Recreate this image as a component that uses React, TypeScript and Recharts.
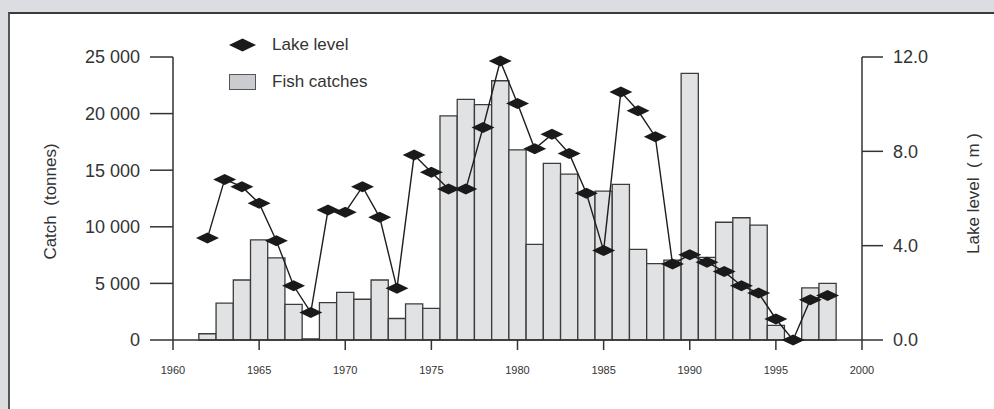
import {
    ComposedChart, Bar, Line, XAxis, YAxis, Legend, Label
} from 'recharts';

const YEARS = [
    1962, 1963, 1964, 1965, 1966, 1967, 1968, 1969, 1970, 1971, 1972, 1973,
    1974, 1975, 1976, 1977, 1978, 1979, 1980, 1981, 1982, 1983, 1984, 1985,
    1986, 1987, 1988, 1989, 1990, 1991, 1992, 1993, 1994, 1995, 1996, 1997, 1998,
];

// fish catches, tonnes
const CATCH_T = [
    550, 3250, 5300, 8850, 7250, 3150, 100, 3300, 4200, 3600, 5300, 1900,
    3200, 2800, 19800, 21250, 20800, 22900, 16800, 8450, 15600, 14650, 12900, 13150,
    13750, 8000, 6750, 7050, 23550, 7300, 10400, 10800, 10150, 1300, 0, 4600, 5000,
];

// lake level, m
const LEVEL_M = [
    4.32, 6.81, 6.5, 5.8, 4.21, 2.3, 1.17, 5.51, 5.42, 6.5, 5.2, 2.19,
    7.84, 7.11, 6.4, 6.4, 9.01, 11.83, 10.03, 8.11, 8.72, 7.91, 6.22, 3.79,
    10.52, 9.72, 8.62, 3.22, 3.61, 3.3, 2.9, 2.3, 1.99, 0.89, 0, 1.71, 1.89,
];

const YEAR_TICKS = [1960, 1965, 1970, 1975, 1980, 1985, 1990, 1995, 2000];
const CATCH_TICKS = [0, 5000, 10000, 15000, 20000, 25000];
const LEVEL_TICKS = [0, 4, 8, 12];

const rows = YEARS.map((year, i) => ({ year, catchT: CATCH_T[i], level: LEVEL_M[i] }));

const INK = '#333';
const FONT = '"Liberation Sans", Arial, sans-serif';

const fmtCatch = (v: number) => (v === 0 ? '0' : `${v / 1000} 000`);

// black diamond marker on the lake level line
const Diamond = (props: any) => {
    const { cx, cy, index } = props;
    if (cx == null || cy == null) return null;
    return (
        <polygon
            key={`d-${index}`}
            points={`${cx - 11.5},${cy} ${cx},${cy - 5.5} ${cx + 11.5},${cy} ${cx},${cy + 5.5}`}
            fill="#1a1a1a"
        />
    );
};

const LegendBox = ({ payload }: any) => {
    const items = [...(payload || [])].sort((a: any) => (a.type === 'diamond' ? -1 : 1));
    return (
        <div style={{ fontFamily: FONT, fontSize: 17, color: INK }}>
            {items.map((it: any) => (
                <div key={it.value} style={{ height: 36.5, display: 'flex', alignItems: 'center' }}>
                    <svg width={27} height={16} style={{ display: 'block' }}>
                        {it.type === 'diamond' ? (
                            <polygon points="0,8 13.5,1.5 27,8 13.5,14.5" fill="#1a1a1a" />
                        ) : (
                            <rect x={0.5} y={0.5} width={26} height={15} fill="#cbcccf" stroke="#555" strokeWidth={1} />
                        )}
                    </svg>
                    <span style={{ marginLeft: 16 }}>{it.value}</span>
                </div>
            ))}
        </div>
    );
};

export default function App() {
    return (
        <div style={{ position: 'relative', width: 994, height: 409, background: '#dcdde0', overflow: 'hidden', fontFamily: FONT }}>
            <style>{'body{margin:0}'}</style>
            {/* white panel */}
            <div style={{
                position: 'absolute', left: 8, top: 12, right: 0, bottom: 0, background: '#fff',
                borderTop: '2px solid #3a3a3a', borderLeft: '2px solid #555'
            }} />
            <div style={{ position: 'absolute', left: 0, top: 0 }}>
                <ComposedChart
                    width={994}
                    height={409}
                    data={rows}
                    margin={{ top: 57, right: 52, bottom: 39, left: 93 }}
                >
                    <XAxis
                        dataKey="year"
                        type="number"
                        domain={[1960, 2000]}
                        ticks={YEAR_TICKS}
                        height={30}
                        tickSize={10}
                        tickMargin={16}
                        stroke={INK}
                        strokeWidth={1.5}
                        tick={{ fill: INK, fontSize: 11 }}
                    />
                    <YAxis
                        yAxisId="catch"
                        domain={[0, 25000]}
                        ticks={CATCH_TICKS}
                        tickFormatter={fmtCatch}
                        width={80}
                        tickSize={23}
                        tickMargin={10}
                        stroke={INK}
                        strokeWidth={1.5}
                        tick={{ fill: INK, fontSize: 18 }}
                    >
                        <Label
                            content={({ viewBox }: any) => (
                                <text
                                    x={viewBox.x - 43}
                                    y={viewBox.y + viewBox.height / 2 + 3}
                                    transform={`rotate(-90 ${viewBox.x - 43} ${viewBox.y + viewBox.height / 2 + 3})`}
                                    textAnchor="middle"
                                    dominantBaseline="central"
                                    fill={INK}
                                    fontSize={17}
                                >
                                    {'Catch\u00a0\u00a0(tonnes)'}
                                </text>
                            )}
                        />
                    </YAxis>
                    <YAxis
                        yAxisId="level"
                        orientation="right"
                        domain={[0, 12]}
                        ticks={LEVEL_TICKS}
                        tickFormatter={(v: number) => v.toFixed(1)}
                        width={80}
                        tickSize={21}
                        tickMargin={10}
                        stroke={INK}
                        strokeWidth={1.5}
                        tick={{ fill: INK, fontSize: 18 }}
                    >
                        <Label
                            content={({ viewBox }: any) => (
                                <text
                                    x={viewBox.x + 111}
                                    y={viewBox.y + viewBox.height / 2 - 5}
                                    transform={`rotate(-90 ${viewBox.x + 111} ${viewBox.y + viewBox.height / 2 - 5})`}
                                    textAnchor="middle"
                                    dominantBaseline="central"
                                    fill={INK}
                                    fontSize={17}
                                >
                                    {'Lake level\u00a0\u00a0(\u00a0m\u00a0)'}
                                </text>
                            )}
                        />
                    </YAxis>
                    <Legend
                        layout="vertical"
                        align="center"
                        verticalAlign="middle"
                        content={<LegendBox />}
                        wrapperStyle={{ position: 'absolute', left: 229, top: 27, width: 200, height: 73 }}
                    />
                    <Bar
                        yAxisId="catch"
                        dataKey="catchT"
                        name="Fish catches"
                        legendType="rect"
                        barSize={17.2}
                        fill="#e1e2e4"
                        stroke="#3c3c3c"
                        strokeWidth={1.3}
                        isAnimationActive={false}
                    />
                    <Line
                        yAxisId="level"
                        dataKey="level"
                        name="Lake level"
                        legendType="diamond"
                        stroke="#1e1e1e"
                        strokeWidth={1.4}
                        dot={<Diamond />}
                        activeDot={false}
                        isAnimationActive={false}
                    />
                </ComposedChart>
            </div>
        </div>
    );
}
